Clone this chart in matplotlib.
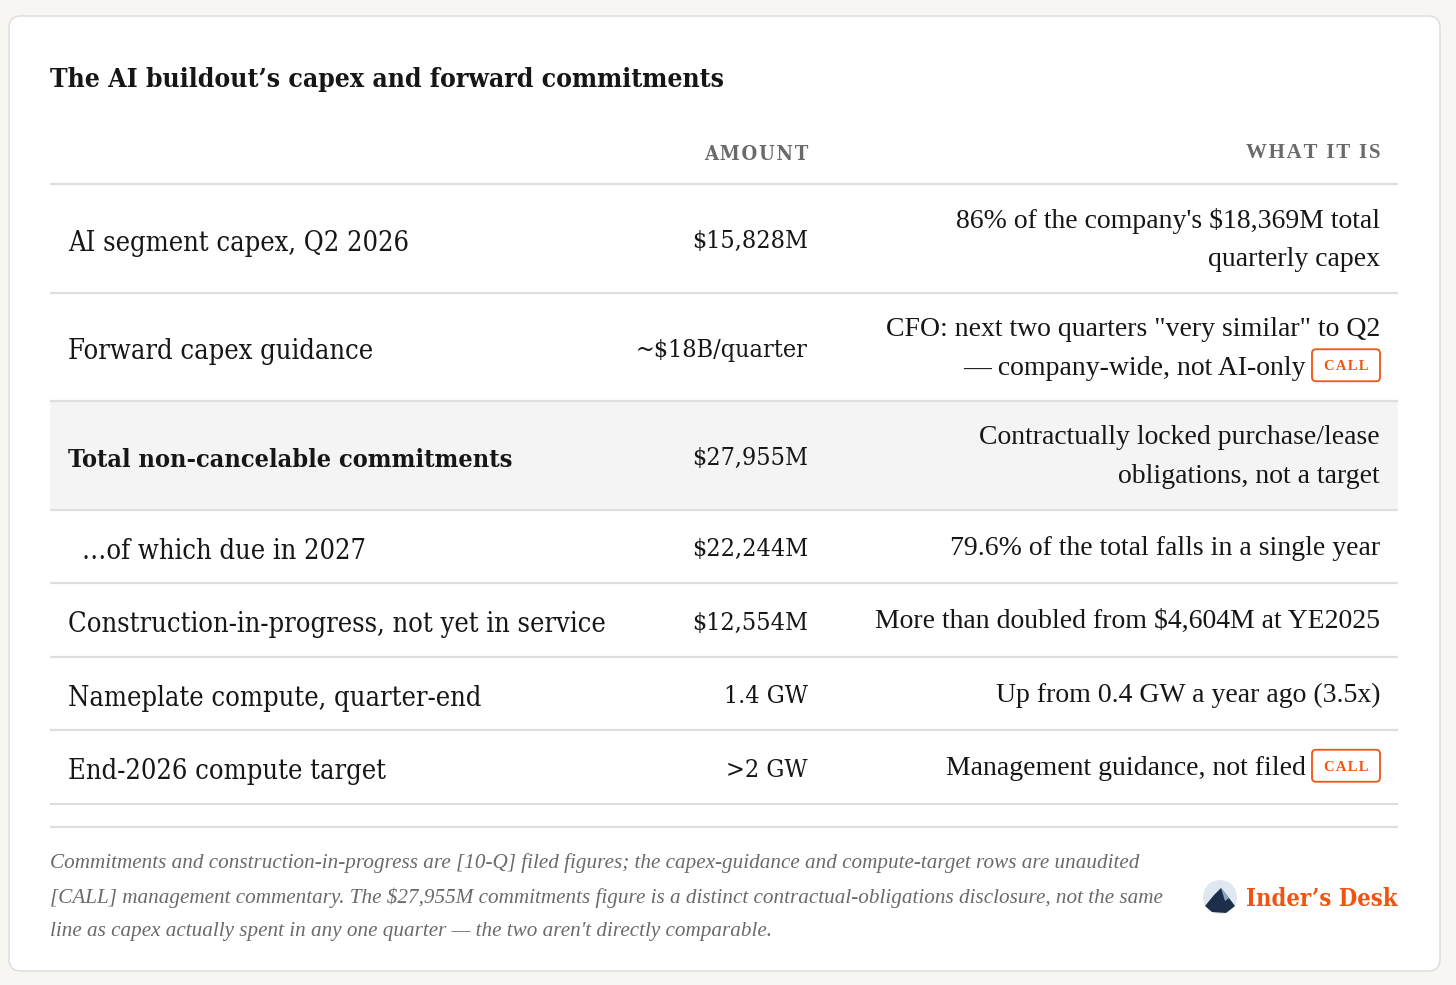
import matplotlib
matplotlib.use("Agg")
import matplotlib.pyplot as plt
from matplotlib.patches import FancyBboxPatch, Rectangle, Circle, Polygon

# table content
title = "The AI buildout\u2019s capex and forward commitments"
col_headers = ["AMOUNT", "WHAT IT IS"]
labels = [
    "AI segment capex, Q2 2026",
    "Forward capex guidance",
    "Total non-cancelable commitments",
    "\u2026of which due in 2027",
    "Construction-in-progress, not yet in service",
    "Nameplate compute, quarter-end",
    "End-2026 compute target",
]
amounts = ["$15,828M", "~$18B/quarter", "$27,955M", "$22,244M",
           "$12,554M", "1.4 GW", ">2 GW"]
descriptions = [
    ["86% of the company's $18,369M total", "quarterly capex"],
    ["CFO: next two quarters \"very similar\" to Q2", "\u2014 company-wide, not AI-only"],
    ["Contractually locked purchase/lease", "obligations, not a target"],
    ["79.6% of the total falls in a single year"],
    ["More than doubled from $4,604M at YE2025"],
    ["Up from 0.4 GW a year ago (3.5x)"],
    ["Management guidance, not filed"],
]
is_call = [False, True, False, False, False, False, True]
is_total = [False, False, True, False, False, False, False]
is_sub = [False, False, False, True, False, False, False]
footnote = [
    "Commitments and construction-in-progress are [10-Q] filed figures; the capex-guidance and compute-target rows are unaudited",
    "[CALL] management commentary. The $27,955M commitments figure is a distinct contractual-obligations disclosure, not the same",
    "line as capex actually spent in any one quarter \u2014 the two aren't directly comparable.",
]
brand = "Inder\u2019s Desk"

# style
W, H = 1456, 985
SLAB = ["DejaVu Serif"]
SERIF = ["Liberation Serif", "DejaVu Serif"]
INK = "#161616"
GREY = "#6a6a6a"
RULE = "#dedede"
ORANGE = "#f2540f"

fig = plt.figure(figsize=(W / 100, H / 100), dpi=100)
fig.patch.set_facecolor("#f7f6f3")
ax = fig.add_axes([0, 0, 1, 1])
ax.set_xlim(0, W)
ax.set_ylim(H, 0)
ax.axis("off")

# card
ax.add_patch(FancyBboxPatch((9, 16), 1431, 955, boxstyle="round,pad=0,rounding_size=12",
                            fc="white", ec="#e0e0e0", lw=1.2))

ax.text(50, 77, title, family=SLAB, fontstretch="condensed", fontweight="bold",
        fontsize=19, color=INK, va="center_baseline")

x_left, x_right = 50, 1398
x_amt, x_desc = 808, 1380

ax.text(x_amt, 152, "\u200a".join(col_headers[0]), family=SLAB, fontstretch="condensed",
        fontweight="bold", fontsize=14.5, color=GREY, ha="right", va="center_baseline")
ax.text(x_desc, 151, "\u200a".join(col_headers[1]), family=SERIF, fontweight="bold",
        fontsize=15, color=GREY, ha="right", va="center_baseline")

y = 184
ax.plot([x_left, x_right], [y, y], color=RULE, lw=1.6, solid_capstyle="butt")
for i, lab in enumerate(labels):
    n = len(descriptions[i])
    h = 38.5 + 35 * n
    mid = y + h / 2
    if is_total[i]:
        ax.add_patch(Rectangle((x_left, y), x_right - x_left, h, fc="#f4f4f4", ec="none"))
    ax.text(68 + (14 if is_sub[i] else 0), mid + 2, lab, family=SLAB, fontstretch="condensed",
            fontweight="bold" if is_total[i] else "normal",
            fontsize=18.2 if is_total[i] else 19.5, color=INK, va="center_baseline")
    ax.text(x_amt, mid + 1, amounts[i], family=SLAB, fontstretch="condensed", fontsize=18,
            color=INK, ha="right", va="center_baseline")
    offs = [0] if n == 1 else [-19.5, 19.5]
    for j, line in enumerate(descriptions[i]):
        right = x_desc
        if is_call[i] and j == n - 1:
            right = x_desc - 74
            by = mid + offs[j] - 1
            ax.add_patch(FancyBboxPatch((x_desc - 68, by - 16), 68, 32,
                                        boxstyle="round,pad=0,rounding_size=4",
                                        fc="white", ec=ORANGE, lw=1.3))
            ax.text(x_desc - 34, by, "\u200a".join("CALL"), family=SERIF, fontweight="bold",
                    fontsize=10.5, color=ORANGE, ha="center", va="center_baseline")
        ax.text(right, mid + offs[j] - 1, line, family=SERIF, fontsize=20, color=INK,
                ha="right", va="center_baseline")
    y += h
    ax.plot([x_left, x_right], [y, y], color=RULE, lw=1.6, solid_capstyle="butt")

ax.plot([x_left, x_right], [827, 827], color=RULE, lw=1.6, solid_capstyle="butt")

for k, line in enumerate(footnote):
    ax.text(x_left, 861 + 34 * k, line, family=SERIF, style="italic", fontsize=15.2,
            color=GREY, va="center_baseline")

# brand mark
cx, cy, r = 1220, 897, 17
ax.add_patch(Circle((cx, cy), r, fc="#dfe8f1", ec="none"))
ax.add_patch(Polygon([(cx - 15, cy + 9), (cx - 6, cy - 2), (cx + 1, cy - 9), (cx + 9, cy + 1),
                      (cx + 15, cy + 9), (cx + 6, cy + 16), (cx - 8, cy + 15)],
                     fc="#1b2f4a", ec="none"))
ax.add_patch(Polygon([(cx + 1, cy - 9), (cx + 5, cy + 4), (cx + 9, cy + 1)],
                     fc="#8ea6c2", ec="none"))
ax.text(1398, 897, brand, family=SLAB, fontstretch="condensed", fontweight="bold",
        fontsize=17, color=ORANGE, ha="right", va="center_baseline")

fig.savefig("out.png", dpi=100, facecolor=fig.get_facecolor())
